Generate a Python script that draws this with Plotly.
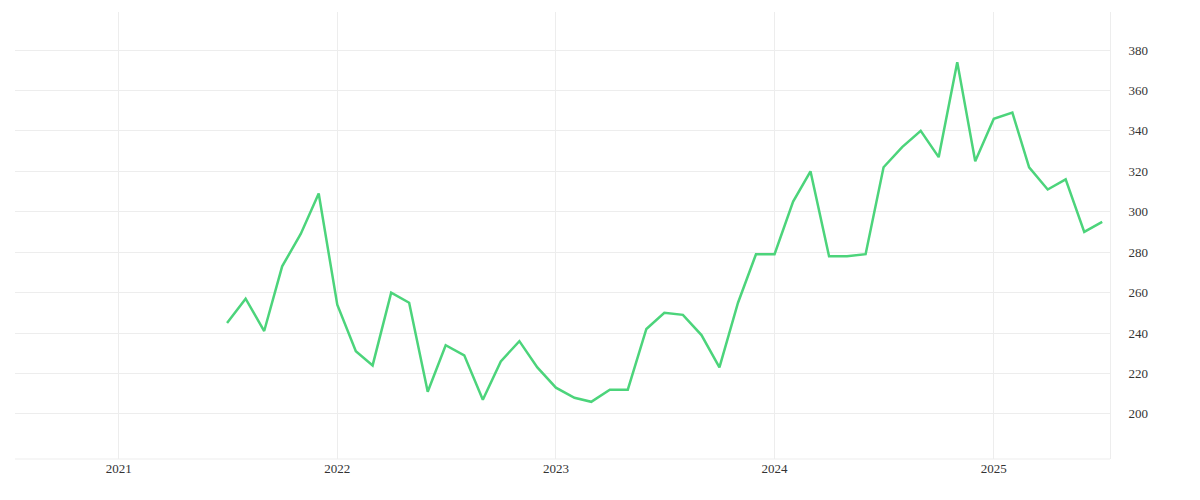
import plotly.graph_objects as go
import pandas as pd

dates = pd.date_range("2021-07-01", "2025-07-01", freq="MS")
values = [245, 257, 241, 273, 289, 309,
          254, 231, 224, 260, 255, 211, 234, 229, 207, 226, 236, 223,
          213, 208, 206, 212, 212, 242, 250, 249, 239, 223, 255, 279,
          279, 305, 320, 278, 278, 279, 322, 332, 340, 327, 374, 325,
          346, 349, 322, 311, 316, 290, 295]
yticks = list(range(200, 381, 20))

fig = go.Figure(go.Scatter(x=dates, y=values, mode="lines",
                           line=dict(color="#4cd47b", width=2.5), hoverinfo="skip"))
grid = "#ededed"
fig.update_layout(
    width=1200, height=500, plot_bgcolor="white", paper_bgcolor="white",
    margin=dict(l=7, r=98, t=4, b=49), showlegend=False,
    font=dict(family="Liberation Serif", size=13, color="#333"),
    xaxis=dict(range=["2020-07-12", "2025-07-14"], showgrid=True, gridcolor=grid,
               tickvals=["2021-01-01", "2022-01-01", "2023-01-01", "2024-01-01", "2025-01-01"],
               ticktext=["2021", "2022", "2023", "2024", "2025"], zeroline=False,
               showline=False, ticks="", mirror=False),
    yaxis=dict(range=[177.7, 398.8], side="right", tickvals=yticks, showgrid=True,
               gridcolor=grid, zeroline=False, showline=True, linecolor=grid, ticks="",
               ticklabelstandoff=15),
)
fig.add_shape(type="line", xref="paper", yref="paper", x0=0, x1=1, y0=0, y1=0,
              line=dict(color=grid, width=1))
fig.write_html("out.html")
